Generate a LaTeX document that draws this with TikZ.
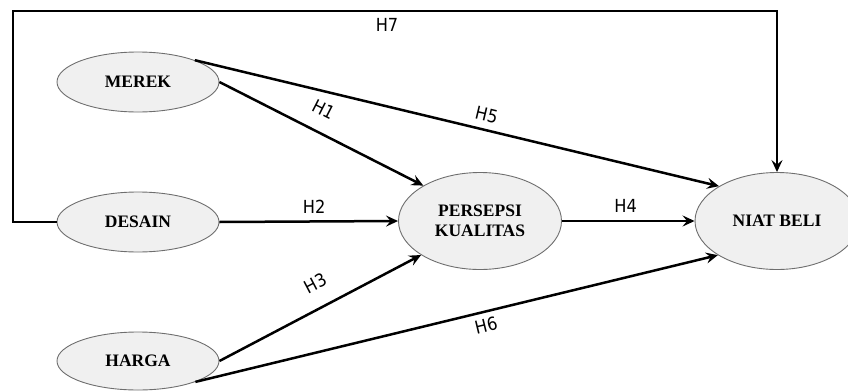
\documentclass[tikz,border=0pt]{standalone}
\usepackage{fontspec}
\setmainfont{Liberation Serif}
\newfontfamily\lblfont{DejaVu Sans Condensed}
\usetikzlibrary{arrows.meta,shapes.geometric}
\definecolor{ellfill}{HTML}{F0F0F0}
\definecolor{ellline}{HTML}{6E6E6E}
\tikzset{
  var/.style={ellipse, draw=ellline, line width=0.9pt, fill=ellfill, inner sep=0pt,
    font=\fontsize{17.5}{20.5}\selectfont\bfseries, align=center},
  conn/.style={line width=2.5pt, -{Stealth[length=12pt,width=11pt,inset=4.5pt]}},
  lbl/.style={font=\lblfont\fontsize{18}{20}\selectfont, inner sep=1pt},
}
\begin{document}
\begin{tikzpicture}[x=1pt,y=-1pt]
\useasboundingbox (0,0) rectangle (848,391);
\begin{scope}
\clip (0,0) rectangle (848,391);
\node[var, minimum width=162pt, minimum height=60pt] (merek) at (138,82) {MEREK};
\node[var, minimum width=162pt, minimum height=60pt] (desain) at (138,222) {DESAIN};
\node[var, minimum width=162pt, minimum height=58pt] (harga) at (138,361) {HARGA};
\node[var, minimum width=163pt, minimum height=97pt] (persepsi) at (480,221) {PERSEPSI\\KUALITAS};
\node[var, minimum width=164pt, minimum height=97pt] (niat) at (777,221) {NIAT BELI};
\end{scope}
\coordinate (c1) at (13,222);
\coordinate (c2) at (13,11);
\coordinate (c3) at (777,11);
\draw[conn] (desain.west) -- (c1) -- (c2) -- (c3) -- (niat.north);
\node[lbl] (h7) at (387,25) {H7};
\draw[conn] (merek.east) -- node[lbl, sloped, above=14pt, pos=0.46] (h1) {H1} (persepsi.148);
\draw[conn] (merek.21) -- node[lbl, sloped, above=6pt, pos=0.55] (h5) {H5} (niat.149);
\draw[conn] (desain.east) -- node[lbl, above=6pt, pos=0.53] (h2) {H2} (persepsi.west);
\draw[conn] (harga.east) -- node[lbl, sloped, above=15pt, pos=0.53] (h3) {H3} (persepsi.210);
\draw[conn] (harga.-20) -- node[lbl, sloped, below=5pt, pos=0.55] (h6) {H6} (niat.210);
\draw[conn] (persepsi.east) -- node[lbl, above=6pt, pos=0.48] (h4) {H4} (niat.west);
\end{tikzpicture}
\end{document}
